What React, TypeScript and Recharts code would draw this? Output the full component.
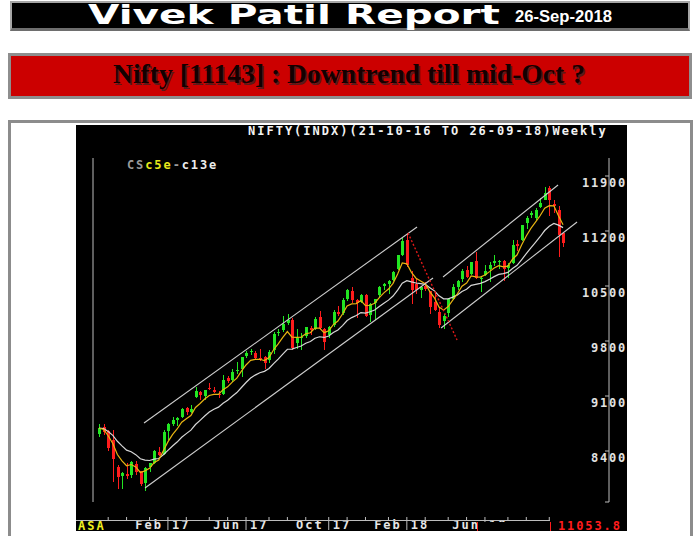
import React from "react";
import { Bar, ComposedChart, Line, ReferenceLine, XAxis, YAxis } from "recharts";

// weekly Nifty candles, 21-Oct-16 .. 26-Sep-18 (week index 0..101)
const opens = [
  8620, 8708, 8653, 8535, 8200, 8080, 8110, 8090, 8230, 8140,
  7990, 8200, 8250, 8390, 8360, 8650, 8750, 8800, 8830, 8950,
  8900, 9090, 9150, 9100, 9200, 9180, 9130, 9130, 9330, 9300,
  9420, 9440, 9610, 9660, 9650, 9590, 9600, 9560, 9680, 9900,
  9940, 10030, 10070, 9780, 9850, 9870, 9970, 9950, 10100, 9950,
  9880, 10000, 10170, 10150, 10340, 10440, 10320, 10300, 10380, 10130,
  10280, 10380, 10500, 10530, 10580, 10720, 10900, 11080, 10600, 10520,
  10450, 10500, 10430, 10300, 10170, 10060, 10150, 10340, 10490, 10590,
  10700, 10650, 10820, 10600, 10640, 10720, 10790, 10800, 10820, 10730,
  10790, 11030, 11080, 11300, 11400, 11370, 11500, 11600, 11750, 11540,
  11470, 11170,
];
const highs = [
  8750, 8740, 8670, 8670, 8220, 8130, 8250, 8275, 8275, 8150,
  8200, 8250, 8410, 8450, 8670, 8760, 8830, 8830, 8950, 8960,
  8980, 9220, 9170, 9180, 9270, 9210, 9160, 9367, 9350, 9450,
  9530, 9600, 9670, 9700, 9670, 9700, 9610, 9680, 9910, 9950,
  10115, 10138, 10090, 9950, 9900, 9980, 9990, 10110, 10180, 9970,
  9990, 10190, 10240, 10350, 10460, 10490, 10340, 10400, 10400, 10280,
  10340, 10500, 10540, 10570, 10690, 10900, 11110, 11171, 10690, 10590,
  10500, 10550, 10440, 10420, 10230, 10140, 10350, 10520, 10580, 10720,
  10760, 10810, 10930, 10620, 10770, 10810, 10890, 10830, 10830, 10790,
  11080, 11080, 11280, 11390, 11460, 11490, 11620, 11760, 11770, 11600,
  11520, 11180,
];
const lows = [
  8580, 8600, 8400, 8002, 7916, 7920, 8050, 8060, 8100, 7960,
  7893, 8130, 8230, 8340, 8350, 8540, 8720, 8720, 8820, 8860,
  8890, 9080, 9050, 9050, 9180, 9140, 9080, 9110, 9270, 9280,
  9380, 9340, 9580, 9620, 9570, 9550, 9450, 9520, 9640, 9860,
  9910, 10000, 9690, 9700, 9690, 9840, 9880, 9940, 9950, 9690,
  9840, 9980, 10120, 10130, 10310, 10280, 10095, 10280, 10100, 10040,
  10070, 10350, 10450, 10400, 10560, 10700, 10880, 10736, 10276, 10400,
  10350, 10430, 10140, 10180, 9960, 9952, 10100, 10320, 10450, 10550,
  10600, 10640, 10590, 10420, 10630, 10550, 10760, 10720, 10560, 10600,
  10780, 10940, 11070, 11230, 11360, 11340, 11490, 11590, 11390, 11430,
  10870, 10990,
];
const closes = [
  8693, 8638, 8433, 8297, 8074, 8114, 8086, 8261, 8139, 7986,
  8186, 8244, 8400, 8349, 8641, 8741, 8794, 8822, 8940, 8897,
  8934, 9160, 9108, 9174, 9198, 9150, 9119, 9304, 9285, 9400,
  9427, 9595, 9653, 9668, 9588, 9574, 9521, 9665, 9886, 9915,
  10014, 10066, 9710, 9837, 9857, 9974, 9934, 10085, 9964, 9789,
  9979, 10167, 10146, 10323, 10452, 10322, 10283, 10389, 10121, 10265,
  10333, 10493, 10531, 10559, 10681, 10895, 11070, 10761, 10455, 10452,
  10491, 10458, 10227, 10195, 9998, 10114, 10332, 10481, 10564, 10692,
  10618, 10806, 10596, 10605, 10696, 10768, 10817, 10822, 10714, 10772,
  11018, 11010, 11278, 11361, 11429, 11470, 11557, 11681, 11589, 11515,
  11143, 11053,
];
// c5e (yellow) and c13e (white) overlays
const ema5 = [
  8693, 8675, 8594, 8495, 8355, 8275, 8212, 8228, 8198, 8127,
  8147, 8179, 8253, 8285, 8404, 8516, 8609, 8680, 8767, 8810,
  8851, 8954, 9005, 9061, 9107, 9121, 9120, 9181, 9216, 9277,
  9327, 9416, 9495, 9553, 9565, 9568, 9552, 9590, 9689, 9764,
  9847, 9920, 9850, 9846, 9850, 9891, 9905, 9965, 9965, 9906,
  9930, 10009, 10055, 10144, 10247, 10272, 10276, 10314, 10250, 10255,
  10281, 10352, 10412, 10461, 10534, 10654, 10793, 10782, 10673, 10599,
  10563, 10528, 10428, 10350, 10233, 10193, 10239, 10320, 10401, 10498,
  10538, 10627, 10617, 10613, 10641, 10683, 10728, 10759, 10744, 10753,
  10841, 10897, 11024, 11136, 11234, 11313, 11394, 11490, 11523, 11520,
  11394, 11280,
];
const ema13 = [
  8693, 8685, 8649, 8599, 8524, 8465, 8411, 8390, 8354, 8301,
  8285, 8279, 8296, 8304, 8352, 8408, 8463, 8514, 8575, 8621,
  8666, 8737, 8790, 8845, 8895, 8931, 8958, 9007, 9047, 9097,
  9144, 9208, 9272, 9329, 9366, 9396, 9414, 9450, 9512, 9570,
  9633, 9695, 9697, 9717, 9737, 9771, 9794, 9836, 9854, 9845,
  9864, 9907, 9941, 9996, 10061, 10098, 10124, 10162, 10156, 10172,
  10195, 10238, 10280, 10320, 10372, 10447, 10536, 10568, 10552, 10538,
  10531, 10521, 10479, 10438, 10375, 10337, 10337, 10358, 10387, 10431,
  10458, 10508, 10521, 10533, 10556, 10586, 10619, 10648, 10657, 10673,
  10722, 10763, 10837, 10912, 10986, 11055, 11127, 11206, 11261, 11297,
  11275, 11243,
];

const priceTicks = [8400, 9100, 9800, 10500, 11200, 11900];
const priceDomain = [7751, 12129];
const weekDomain = [-1.306, 111];
const monthTicks = [2, 6, 11, 15, 19, 24, 28, 32, 37, 41, 45, 50, 54, 58, 63, 67, 71, 76, 80, 84, 89, 93, 98];
const labelWeeks = [15, 32, 50, 67, 84];
const labelMonths = ["Feb", "Jun", "Oct", "Feb", "Jun"];
const labelYears = ["17", "17", "17", "18", "18"];

// trend lines as [week1, price1, week2, price2]
const channelLines = [
  [9.8, 8756, 69.22, 11251],
  [10.01, 7929, 72.7, 10602],
  [74.88, 10615, 99.91, 11785],
  [74.45, 9965, 104.05, 11315],
];
const downLines = [[67.26, 11175, 77.93, 9813]];

const lastPrice = "11053.8";

const data = closes.map((close, i) => ({
  week: i,
  open: opens[i],
  high: highs[i],
  low: lows[i],
  close,
  range: [lows[i], highs[i]],
  ema5: ema5[i],
  ema13: ema13[i],
}));

const MONO = "'DejaVu Sans Mono', monospace"
const UP = "#22e622"
const DOWN = "#ff1c1c"
const AXIS = "#bdbdbd"

function Candle(props: any) {
  const { x, y, width, height, payload } = props
  if (!payload || height == null) return null
  const { open, close, high, low } = payload
  const cx = Math.round(x + width / 2)
  const k = height / (high - low || 1)
  const yo = y + (high - open) * k
  const yc = y + (high - close) * k
  const color = close >= open ? UP : DOWN
  const top = Math.min(yo, yc)
  return (
    <g shapeRendering="crispEdges">
      <line x1={cx + 0.5} x2={cx + 0.5} y1={y} y2={y + height} stroke={color} />
      <rect x={cx - 1} y={top} width={3} height={Math.max(1, Math.abs(yo - yc))} fill={color} />
    </g>
  )
}

function PriceTick({ x, y, payload }: any) {
  const shown = priceTicks.includes(payload.value)
  return (
    <g>
      <line x1={x - 4} x2={x} y1={y} y2={y} stroke={AXIS} />
      {shown && (
        <text x={x + 18} y={y + 11} textAnchor="end" fontFamily={MONO} fontWeight="bold" fontSize={12} letterSpacing={1.8} fill="#e2e2e2">
          {payload.value}
        </text>
      )}
    </g>
  )
}

function MonthTick({ x, y, payload }: any) {
  const k = labelWeeks.indexOf(payload.value)
  return (
    <g>
      <line x1={x} x2={x} y1={y + 15} y2={y + 18} stroke={AXIS} />
      {k >= 0 && (
        <g>
          <text x={x - 5} y={y + 27} textAnchor="end" fontFamily={MONO} fontWeight="bold" fontSize={12} letterSpacing={2} fill="#e6e6e6">
            {labelMonths[k]}
          </text>
          <line x1={x} x2={x} y1={y + 19} y2={y + 28} stroke={AXIS} />
          <text x={x + 4} y={y + 27} fontFamily={MONO} fontWeight="bold" fontSize={12} letterSpacing={2} fill="#e6e6e6">
            {labelYears[k]}
          </text>
        </g>
      )}
    </g>
  )
}

export default function App() {
  return (
    <div style={{ position: "fixed", left: 0, top: 0, width: 700, height: 536, overflow: "hidden", background: "#fff" }}>
      <div style={{ position: "absolute", left: 10, top: 1, width: 680, height: 30, boxSizing: "border-box", background: "#000", border: "2px solid #a6a6a6", borderBottom: "3px solid #6e6e6e" }} />
      <div style={{ position: "absolute", left: 8, top: 53, width: 684, height: 46, boxSizing: "border-box", background: "#cc0000", border: "3px solid #8e8e8e" }} />
      <svg width={700} height={110} style={{ position: "absolute", left: 0, top: 0 }}>
        <text x={88} y={24} textLength={412} lengthAdjust="spacingAndGlyphs" fontFamily="'DejaVu Sans', sans-serif" fontWeight="bold" fontSize={27} fill="#fff">
          Vivek Patil Report
        </text>
        <text x={515} y={22} textLength={97} lengthAdjust="spacingAndGlyphs" fontFamily="'Liberation Sans', Arial, sans-serif" fontWeight="bold" fontSize={16} fill="#fff">
          26-Sep-2018
        </text>
        <text x={114.5} y={84.5} textLength={472} lengthAdjust="spacingAndGlyphs" fontFamily="'Liberation Serif', serif" fontWeight="bold" fontSize={27} fill="#5a1a1a">
          Nifty [11143] : Downtrend till mid-Oct ?
        </text>
        <text x={113} y={83} textLength={472} lengthAdjust="spacingAndGlyphs" fontFamily="'Liberation Serif', serif" fontWeight="bold" fontSize={27} fill="#140000">
          Nifty [11143] : Downtrend till mid-Oct ?
        </text>
      </svg>
      <div style={{ position: "absolute", left: 8, top: 120, width: 685, height: 440, boxSizing: "border-box", border: "3px solid #8c8c8c", background: "#fff" }} />
      <div style={{ position: "absolute", left: 76, top: 125, width: 551, height: 406, background: "#000", overflow: "hidden" }}>
        <ComposedChart width={551} height={406} data={data} margin={{ top: 33, right: 0, bottom: 0, left: 0 }}>
          <XAxis
            dataKey="week"
            type="number"
            domain={weekDomain}
            allowDataOverflow
            ticks={monthTicks}
            interval={0}
            tick={<MonthTick />}
            tickLine={false}
            axisLine={false}
            tickSize={0}
            tickMargin={0}
            height={29}
          />
          <YAxis
            yAxisId="frame"
            orientation="left"
            width={17}
            domain={priceDomain}
            allowDataOverflow
            tick={false}
            tickLine={false}
            axisLine={{ stroke: AXIS }}
          />
          <YAxis
            yAxisId="price"
            orientation="right"
            width={18}
            domain={priceDomain}
            allowDataOverflow
            ticks={[priceDomain[0], ...priceTicks]}
            interval={0}
            tick={<PriceTick />}
            tickLine={false}
            tickSize={0}
            tickMargin={0}
            axisLine={{ stroke: AXIS }}
          />
          <Bar yAxisId="price" dataKey="range" barSize={3} shape={<Candle />} isAnimationActive={false} />
          <Line yAxisId="price" type="linear" dataKey="ema13" stroke="#d6d6d6" strokeWidth={1.2} dot={false} activeDot={false} isAnimationActive={false} />
          <Line yAxisId="price" type="linear" dataKey="ema5" stroke="#e8b412" strokeWidth={1.2} dot={false} activeDot={false} isAnimationActive={false} />
          {channelLines.map(([x1, y1, x2, y2], i) => (
            <ReferenceLine key={"c" + i} yAxisId="price" segment={[{ x: x1, y: y1 }, { x: x2, y: y2 }]} stroke="#cdcdcd" strokeWidth={1.1} ifOverflow="visible" />
          ))}
          {downLines.map(([x1, y1, x2, y2], i) => (
            <ReferenceLine key={"d" + i} yAxisId="price" segment={[{ x: x1, y: y1 }, { x: x2, y: y2 }]} stroke="#e01818" strokeWidth={1.4} strokeDasharray="2 2" ifOverflow="visible" />
          ))}
        </ComposedChart>
        <svg width={551} height={406} style={{ position: "absolute", left: 0, top: 0, pointerEvents: "none" }}>
          <text x={172} y={9.5} fontFamily={MONO} fontWeight="bold" fontSize={12} letterSpacing={2} fill="#f2f2f2">
            NIFTY(INDX)(21-10-16 TO 26-09-18)Weekly
          </text>
          <text x={51} y={43.5} fontFamily={MONO} fontWeight="bold" fontSize={12} letterSpacing={1.9}>
            <tspan fill="#9a9a9a">CS</tspan>
            <tspan fill="#e8e81a">c5e</tspan>
            <tspan fill="#9a9a9a">-</tspan>
            <tspan fill="#ececec">c13e</tspan>
          </text>
          <line x1={0} x2={474} y1={395.5} y2={395.5} stroke={AXIS} />
          <rect x={401} y={397} width={73} height={9} fill="#000" />
          <line x1={401.5} x2={401.5} y1={397} y2={406} stroke="#ff1c1c" />
          <line x1={474.5} x2={474.5} y1={397} y2={406} stroke="#ff1c1c" />
          <text x={2} y={404.5} fontFamily={MONO} fontWeight="bold" fontSize={12} letterSpacing={2} fill="#f0f020">
            ASA
          </text>
          <text x={482} y={404.5} fontFamily={MONO} fontWeight="bold" fontSize={12} letterSpacing={1.9} fill="#ff1c1c">
            {lastPrice}
          </text>
        </svg>
      </div>
    </div>
  )
}
